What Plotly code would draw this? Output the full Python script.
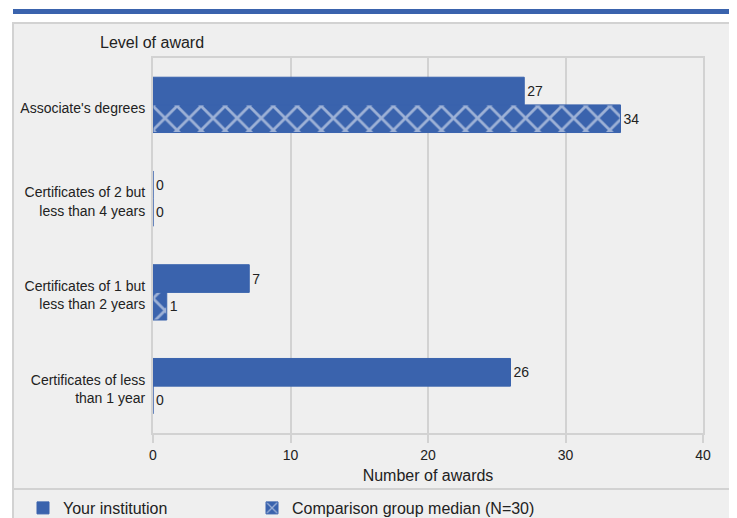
import plotly.graph_objects as go

categories = [
    "Associate's degrees",
    "Certificates of 2 but<br>less than 4 years",
    "Certificates of 1 but<br>less than 2 years",
    "Certificates of less<br>than 1 year",
]
your_institution = [27, 0, 7, 26]
comparison_median = [34, 0, 1, 0]
series_names = ["Your institution", "Comparison group median (N=30)"]
x_ticks = [0, 10, 20, 30, 40]

BLUE = "#3a63ad"
PANEL = "#efefef"
LINE = "#d2d2d2"
FONT = "Arial, Liberation Sans, sans-serif"
TXT = "#222222"

OFF = 8  # page body margin
W, H = 737 - OFF, 518 - OFF
# plot area in screen pixels: x 153-703, y 58-433
L, R, T, B = 153 - OFF, W - (703 - OFF), 58 - OFF, H - (433 - OFF)
PW, PH = W - L - R, H - T - B


def px(x):
    return (x - OFF - L) / PW


def py(y):
    return (H - B - (y - OFF)) / PH


fig = go.Figure()
fig.add_trace(go.Bar(
    y=categories, x=your_institution, orientation="h", name=series_names[0],
    marker=dict(color=BLUE, line=dict(color=BLUE, width=1)),
    text=[str(v) for v in your_institution], textposition="outside",
    textfont=dict(size=14, color=TXT, family=FONT), cliponaxis=False,
    legend="legend",
))
fig.add_trace(go.Bar(
    y=categories, x=comparison_median, orientation="h", name=series_names[1],
    marker=dict(color=BLUE, line=dict(color=BLUE, width=1),
                pattern=dict(shape="x", bgcolor=BLUE, fgcolor="white",
                             size=17, solidity=0.3)),
    text=[str(v) for v in comparison_median], textposition="outside",
    textfont=dict(size=14, color=TXT, family=FONT), cliponaxis=False,
    legend="legend2",
))

shapes = [
    dict(type="rect", xref="paper", yref="paper", layer="below",
         x0=px(13), x1=px(733), y0=py(560), y1=py(23),
         fillcolor=PANEL, line=dict(color=LINE, width=2)),
    dict(type="rect", xref="paper", yref="paper",
         x0=px(13), x1=px(734), y0=py(14), y1=py(9),
         fillcolor=BLUE, line=dict(width=0)),
    dict(type="line", xref="paper", yref="paper",
         x0=px(13), x1=px(733), y0=py(489), y1=py(489),
         line=dict(color=LINE, width=2)),
]

legend_common = dict(orientation="h", xanchor="left", yanchor="middle",
                     font=dict(size=16, family=FONT, color=TXT),
                     bgcolor="rgba(0,0,0,0)")

fig.update_layout(
    width=W, height=H,
    margin=dict(l=L, r=R, t=T, b=B, autoexpand=False),
    paper_bgcolor="white", plot_bgcolor=PANEL,
    font=dict(family=FONT, size=14, color=TXT),
    barmode="group", bargap=0.41, bargroupgap=0,
    shapes=shapes,
    showlegend=True,
    legend=dict(x=px(23), y=py(508), **legend_common),
    legend2=dict(x=px(252), y=py(508), **legend_common),
    annotations=[dict(text="Level of award", xref="paper", yref="paper",
                      x=px(98), y=py(42), xanchor="left", yanchor="middle",
                      showarrow=False, font=dict(size=16, family=FONT, color=TXT))],
)
fig.update_xaxes(
    range=[0, 40], tickvals=x_ticks, ticktext=[str(v) for v in x_ticks],
    showgrid=True, gridcolor=LINE, gridwidth=2, zeroline=False,
    showline=True, linecolor=LINE, linewidth=2, mirror=True,
    ticks="outside", ticklen=8, tickcolor=LINE, tickwidth=2,
    tickfont=dict(size=14), fixedrange=True,
    title=dict(text="Number of awards", font=dict(size=16), standoff=8),
    automargin=False,
)
fig.update_yaxes(
    autorange="reversed", showgrid=False, zeroline=False,
    showline=True, linecolor=LINE, linewidth=2, mirror=True,
    ticks="", ticklabelstandoff=3, ticklabelshift=-3,
    tickfont=dict(size=14), automargin=False,
)

fig.write_html("out.html")
